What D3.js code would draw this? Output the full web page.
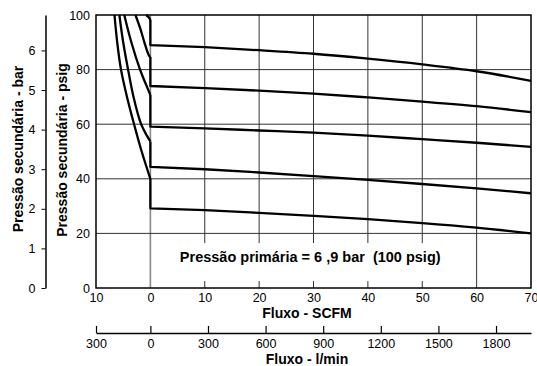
<!DOCTYPE html>
<html>
<head>
<meta charset="utf-8">
<script src="https://cdn.jsdelivr.net/npm/d3@7"></script>
<style>
  body { margin: 0; background: #fff; }
  text { font-family: "Liberation Sans", Arial, Helvetica, sans-serif; }
</style>
</head>
<body>
<script>
// tick values for the four axes
var flowTicks = [-10, 0, 10, 20, 30, 40, 50, 60, 70];
var psigTicks = [0, 20, 40, 60, 80, 100];
var barTicks = [0, 1, 2, 3, 4, 5, 6];
var lminTicks = [-300, 0, 300, 600, 900, 1200, 1500, 1800];

// forward flow (SCFM) where the regulation curves were read
var forwardFlow = [0, 10, 20, 30, 40, 50, 60, 70];

// secondary pressure (psig) of each curve at forwardFlow
var curve89 = [89.0, 88.2, 87.1, 85.8, 84.0, 81.9, 79.4, 75.9];
var curve74 = [74.0, 73.2, 72.3, 71.2, 69.8, 68.3, 66.6, 64.4];
var curve59 = [59.1, 58.5, 57.7, 56.9, 55.8, 54.5, 53.2, 51.7];
var curve44 = [44.4, 43.5, 42.3, 41.0, 39.6, 38.1, 36.5, 34.7];
var curve29 = [29.2, 28.5, 27.5, 26.4, 25.2, 23.8, 22.1, 20.0];

// relief (reverse flow) part of each curve: [SCFM, psig]
var relief89 = [[-0.8, 100], [-0.3, 99.2], [0, 98.2]];
var relief74 = [[-2.75, 100], [-1.85, 95], [-1.1, 90], [-0.3, 85.3], [0, 84.6]];
var relief59 = [[-4.8, 100], [-3.5, 90], [-1.9, 80], [-0.9, 75], [0, 70.7]];
var relief44 = [[-5.7, 100], [-5.0, 90], [-4.1, 80], [-3.1, 70], [-1.7, 60], [-0.7, 56], [0, 53.7]];
var relief29 = [[-6.6, 100], [-6.1, 90], [-5.4, 80], [-4.3, 70], [-3.0, 60], [-1.6, 50], [0, 40]];

var series = [
    { relief: relief89, fwd: curve89 },
    { relief: relief74, fwd: curve74 },
    { relief: relief59, fwd: curve59 },
    { relief: relief44, fwd: curve44 },
    { relief: relief29, fwd: curve29 }
];

var width = 537,
    height = 366;

var svg = d3.select("body")
    .append("svg")
    .attr("width", width)
    .attr("height", height);

var x = d3.scaleLinear().domain([-10, 70]).range([96, 531]);
var y = d3.scaleLinear().domain([0, 100]).range([288, 15]);
// same pressure range expressed in bar
var yBar = d3.scaleLinear().domain([0, 100 / 14.5038]).range([288, 15]);
// same flow range expressed in l/min
var xL = d3.scaleLinear().domain([-10 * 28.317, 70 * 28.317]).range([96, 531]).clamp(true);

//grid
svg.append("g").selectAll("line")
    .data(flowTicks.filter(function (d) { return d > -10 && d < 70; }))
    .enter().append("line")
    .attr("x1", function (d) { return x(d); })
    .attr("x2", function (d) { return x(d); })
    .attr("y1", y(0))
    .attr("y2", y(100))
    .attr("stroke", function (d) { return d === 0 ? "#888" : "#333"; })
    .attr("stroke-width", function (d) { return d === 0 ? 1.6 : 1; });

svg.append("g").selectAll("line")
    .data(psigTicks.filter(function (d) { return d > 0 && d < 100; }))
    .enter().append("line")
    .attr("x1", x(-10))
    .attr("x2", x(70))
    .attr("y1", function (d) { return y(d); })
    .attr("y2", function (d) { return y(d); })
    .attr("stroke", "#333")
    .attr("stroke-width", 1);

//note with white box
var note = svg.append("g");
var noteBox = note.append("rect").attr("fill", "#fff");
var noteText = note.append("text")
    .attr("x", x(29.4))
    .attr("y", y(9.5))
    .attr("text-anchor", "middle")
    .style("white-space", "pre")
    .style("font-size", "14.5px")
    .style("font-weight", "bold")
    .text("Pressão primária = 6 ,9 bar  (100 psig)");
var bb = noteText.node().getBBox();
noteBox.attr("x", bb.x - 19).attr("y", bb.y - 6)
    .attr("width", bb.width + 38).attr("height", bb.height + 22);

//curves
var reliefLine = d3.line()
    .x(function (d) { return x(d[0]); })
    .y(function (d) { return y(d[1]); })
    .curve(d3.curveCatmullRom.alpha(0.5));

var straight = d3.line()
    .x(function (d) { return x(d[0]); })
    .y(function (d) { return y(d[1]); });

var fwdLine = d3.line()
    .x(function (d) { return x(d[0]); })
    .y(function (d) { return y(d[1]); })
    .curve(d3.curveMonotoneX);

var curves = svg.append("g")
    .attr("fill", "none")
    .attr("stroke", "#000")
    .attr("stroke-width", 2.3)
    .attr("stroke-linejoin", "round");

series.forEach(function (s) {
    var crack = s.relief[s.relief.length - 1][1];
    curves.append("path").attr("d", reliefLine(s.relief));
    var pts = forwardFlow.map(function (f, i) { return [f, s.fwd[i]]; });
    curves.append("path").attr("d", straight([[0, crack], pts[0]]) + fwdLine(pts).replace(/^M/, "L"));
});

//frame
svg.append("rect")
    .attr("x", x(-10))
    .attr("y", y(100))
    .attr("width", x(70) - x(-10))
    .attr("height", y(0) - y(100))
    .attr("fill", "none")
    .attr("stroke", "#000")
    .attr("stroke-width", 1.5);

//axes
var psigAxis = svg.append("g")
    .attr("transform", "translate(" + x(-10) + ",0)")
    .call(d3.axisLeft(y).tickValues(psigTicks).tickSize(0).tickPadding(6));
psigAxis.select(".domain").remove();

var barAxis = svg.append("g")
    .attr("transform", "translate(45.5,0)")
    .call(d3.axisLeft(yBar).tickValues(barTicks).tickSize(4).tickPadding(6).tickSizeOuter(0)
        .tickFormat(d3.format("d")));
barAxis.select(".domain").attr("stroke-width", 1.5);

var flowAxis = svg.append("g")
    .attr("transform", "translate(0," + y(0) + ")")
    .call(d3.axisBottom(x).tickValues(flowTicks).tickSize(0).tickPadding(5)
        .tickFormat(function (d) { return Math.abs(d); }));
flowAxis.select(".domain").remove();

var lminAxis = svg.append("g")
    .attr("transform", "translate(0,333)")
    .call(d3.axisBottom(xL).tickValues(lminTicks).tickSize(-7).tickPadding(6).tickSizeOuter(0)
        .tickFormat(function (d) { return Math.abs(d); }));
lminAxis.select(".domain").attr("stroke-width", 1.5);
lminAxis.selectAll(".tick line").attr("stroke-width", 1.2);

svg.selectAll(".tick text")
    .style("font-size", "12.5px")
    .style("font-family", "'Liberation Sans', Arial, Helvetica, sans-serif")
    .attr("fill", "#000");

//axis titles
function title(tx, ty, rot, label) {
    svg.append("text")
        .attr("transform", "translate(" + tx + "," + ty + ")" + (rot ? " rotate(-90)" : ""))
        .attr("text-anchor", "middle")
        .style("font-size", "14px")
        .style("font-weight", "bold")
        .text(label);
}
title(23, 149, true, "Pressão secundária - bar");
title(67, 150, true, "Pressão secundária - psig");
title(307, 318, false, "Fluxo - SCFM");
title(307, 364, false, "Fluxo - l/min");
</script>
</body>
</html>
